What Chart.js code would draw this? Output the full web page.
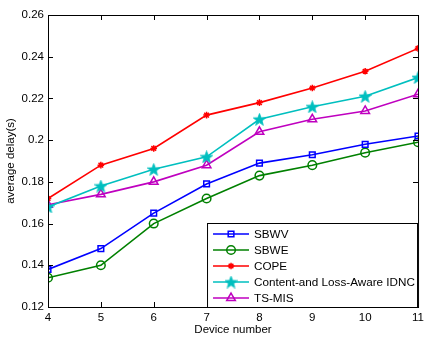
<!DOCTYPE html>
<html>
<head>
<meta charset="utf-8">
<script src="https://cdn.jsdelivr.net/npm/chart.js@4.4.0/dist/chart.umd.min.js"></script>
<style>
  html, body { margin: 0; padding: 0; background: #fff; }
  #wrap { width: 428px; height: 337px; }
</style>
</head>
<body>
<div id="wrap"><canvas id="delayChart" width="428" height="337"></canvas></div>
<script>
// device counts and delay values
const devices = [4, 5, 6, 7, 8, 9, 10, 11];
const sbwv = [0.138, 0.148, 0.165, 0.179, 0.189, 0.193, 0.198, 0.202];
const sbwe = [0.134, 0.140, 0.160, 0.172, 0.183, 0.188, 0.194, 0.199];
const cope = [0.172, 0.188, 0.196, 0.212, 0.218, 0.225, 0.233, 0.244];
const claIdnc = [0.168, 0.178, 0.186, 0.192, 0.210, 0.216, 0.221, 0.230];
const tsMis = [0.169, 0.174, 0.180, 0.188, 0.204, 0.210, 0.214, 0.222];
const seriesNames = ['SBWV', 'SBWE', 'COPE', 'Content-and Loss-Aware IDNC', 'TS-MIS'];

const FONT = '"Liberation Sans", Arial, Helvetica, sans-serif';

// filled five-point star (matlab 'p' marker)
function makePentagram(color, size) {
  const c = document.createElement('canvas');
  c.width = size; c.height = size;
  const g = c.getContext('2d');
  const cx = size / 2, cy = size / 2 + 0.6, R = size / 2, r = R * 0.42;
  g.beginPath();
  for (let i = 0; i < 10; i++) {
    const a = -Math.PI / 2 + i * Math.PI / 5;
    const rr = i % 2 ? r : R;
    g.lineTo(cx + rr * Math.cos(a), cy + rr * Math.sin(a));
  }
  g.closePath();
  g.fillStyle = color; g.fill();
  g.strokeStyle = color; g.lineWidth = 0.8; g.stroke();
  return c;
}
const starImg = makePentagram('#00bfbf', 13);

const styles = [
  { color: '#0000ff', point: 'rect', radius: 4 },
  { color: '#008000', point: 'circle', radius: 4.3 },
  { color: '#ff0000', point: 'star', radius: 3.3 },
  { color: '#00bfbf', point: starImg, radius: 6 },
  { color: '#bf00bf', point: 'triangle', radius: 5 },
];
const allValues = [sbwv, sbwe, cope, claIdnc, tsMis];

const datasets = allValues.map((vals, i) => ({
  label: seriesNames[i],
  data: vals.map((v, j) => ({ x: devices[j], y: v })),
  borderColor: styles[i].color,
  backgroundColor: 'rgba(0,0,0,0)',
  pointBorderColor: styles[i].color,
  pointBackgroundColor: i === 2 ? styles[i].color : 'rgba(0,0,0,0)',
  pointStyle: styles[i].point,
  pointRadius: styles[i].radius,
  pointBorderWidth: 1.5,
  borderWidth: 1.6,
  tension: 0,
}));

// box around axes with matlab style inward ticks on all 4 sides
const boxTicks = {
  id: 'boxTicks',
  afterDatasetsDraw(chart) {
    const { ctx, chartArea: a, scales: { x, y } } = chart;
    ctx.save();
    ctx.strokeStyle = '#000';
    ctx.lineWidth = 1;
    ctx.strokeRect(a.left + 0.5, a.top + 0.5, a.right - a.left, a.bottom - a.top);
    const len = 5;
    ctx.beginPath();
    devices.forEach(d => {
      const px = Math.round(x.getPixelForValue(d)) + 0.5;
      ctx.moveTo(px, a.bottom); ctx.lineTo(px, a.bottom - len);
      ctx.moveTo(px, a.top); ctx.lineTo(px, a.top + len);
    });
    y.ticks.forEach(t => {
      const py = Math.round(y.getPixelForValue(t.value)) + 0.5;
      ctx.moveTo(a.left, py); ctx.lineTo(a.left + len, py);
      ctx.moveTo(a.right, py); ctx.lineTo(a.right - len, py);
    });
    ctx.stroke();
    ctx.restore();
  }
};

// legend drawn inside the lower right corner, like matlab 'SouthEast'
const innerLegend = {
  id: 'innerLegend',
  afterDraw(chart) {
    const { ctx, chartArea: a } = chart;
    const w = 211, rowH = 16, h = rowH * seriesNames.length + 4;
    const x0 = a.right - w, y0 = a.bottom - h;
    ctx.save();
    ctx.fillStyle = '#fff';
    ctx.fillRect(x0, y0, w, h);
    ctx.strokeStyle = '#000';
    ctx.lineWidth = 1;
    ctx.strokeRect(x0 + 0.5, y0 + 0.5, w - 1, h);
    chart.data.datasets.forEach((ds, i) => {
      const cy = y0 + 11 + i * rowH;
      ctx.strokeStyle = ds.borderColor;
      ctx.lineWidth = 1.6;
      ctx.beginPath();
      ctx.moveTo(x0 + 6, cy); ctx.lineTo(x0 + 42, cy);
      ctx.stroke();
      ctx.fillStyle = ds.pointBackgroundColor;
      ctx.lineWidth = 1.5;
      Chart.helpers.drawPoint(ctx, {
        pointStyle: ds.pointStyle, radius: ds.pointRadius, rotation: 0, borderWidth: 1.5
      }, x0 + 24, cy);
      ctx.fillStyle = '#000';
      ctx.font = '11.7px ' + FONT;
      ctx.textBaseline = 'middle';
      ctx.textAlign = 'left';
      ctx.fillText(ds.label, x0 + 47, cy + 0.5);
    });
    ctx.restore();
  }
};

new Chart(document.getElementById('delayChart').getContext('2d'), {
  type: 'line',
  data: { datasets },
  plugins: [boxTicks, innerLegend],
  options: {
    responsive: false,
    animation: false,
    layout: { padding: { top: 15, right: 7, left: 0, bottom: 0 } },
    plugins: { legend: { display: false }, tooltip: { enabled: false } },
    scales: {
      x: {
        type: 'linear', min: 4, max: 11,
        afterFit: s => { s.height = 30; },
        ticks: { stepSize: 1, color: '#000', font: { family: FONT, size: 11.5 }, padding: 4 },
        grid: { display: false, drawTicks: false },
        border: { display: false },
        title: { display: true, text: 'Device number', color: '#000', font: { family: FONT, size: 11.5 }, padding: { top: 1, bottom: 0 } },
      },
      y: {
        min: 0.12, max: 0.26,
        afterFit: s => { s.width = 48; },
        ticks: {
          stepSize: 0.02, color: '#000', font: { family: FONT, size: 11.5 }, padding: 4,
          callback: v => String(parseFloat(v.toFixed(2))),
        },
        grid: { display: false, drawTicks: false },
        border: { display: false },
        title: { display: true, text: 'average delay(s)', color: '#000', font: { family: FONT, size: 11.5 }, padding: { top: 4, bottom: 0 } },
      },
    },
  },
});
</script>
</body>
</html>
